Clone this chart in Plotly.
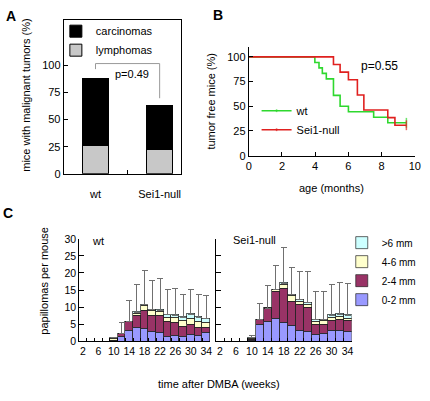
import plotly.graph_objects as go

W, H = 430, 401
FONT = "Liberation Sans, Arial, sans-serif"

# ---------------- Panel A data ----------------
groups = ["wt", "Sei1-null"]
group_pos = [0, 1]
lymphomas = [26.0, 22.0]
carcinomas = [61.5, 40.8]
p_text_A = "p=0.49"
bracket_top = 101.5
bracket_ends = [96.4, 69.6]

# ---------------- Panel B data ----------------
wt_months = [0, 3.98, 4.23, 4.43, 4.67, 5.1, 5.5, 6.0, 7.52, 8.37, 9.49]
wt_free = [100, 94.4, 88.9, 83.3, 77.8, 61.1, 50.0, 44.4, 38.9, 33.3, 33.3]
null_months = [0, 5.1, 5.5, 6.0, 6.54, 6.93, 8.37, 8.8, 9.49]
null_free = [100, 92.3, 84.6, 76.9, 61.5, 46.2, 38.5, 30.8, 30.8]
p_text_B = "p=0.55"

# ---------------- Panel C data ----------------
weeks = [str(w) for w in range(2, 35, 2)]
week_labels = [w if i % 2 == 0 else "" for i, w in enumerate(weeks)]
size_classes = ["0-2 mm", "2-4 mm", "4-6 mm", ">6 mm"]
wt_0_2 = [0, 0, 0, 0, 0.3, 1.4, 3.2, 3.9, 3.8, 2.7, 2.6, 1.2, 1.5, 1.4, 1.9, 1.7, 2.6]
wt_2_4 = [0, 0, 0, 0, 0.0, 0.9, 2.5, 3.6, 5.2, 4.8, 4.9, 4.4, 4.0, 2.8, 3.0, 2.3, 1.4]
wt_4_6 = [0, 0, 0, 0, 0.4, 0.0, 0.1, 0.6, 1.3, 1.3, 1.1, 1.3, 1.4, 1.7, 1.7, 1.7, 1.4]
wt_6 = [0, 0, 0, 0, 0.4, 0.0, 0.0, 0.4, 0.4, 0.5, 0.5, 0.9, 0.8, 1.2, 1.4, 1.4, 1.2]
wt_err = [0, 0, 0, 0, 0, 3.1, 6.2, 8.1, 10.1, 8.4, 9.2, 7.4, 7.9, 6.5, 7.1, 6.5, 6.8]
null_0_2 = [0, 0, 0, 0, 0.3, 4.7, 5.7, 6.5, 5.5, 4.5, 3.2, 2.7, 1.9, 2.1, 3.0, 3.2, 2.7]
null_2_4 = [0, 0, 0, 0, 0.1, 1.6, 3.9, 8.1, 9.8, 7.2, 7.6, 7.0, 3.0, 2.6, 3.1, 3.1, 3.2]
null_4_6 = [0, 0, 0, 0, 0.3, 0.0, 0.1, 0.5, 1.3, 1.5, 0.9, 0.9, 0.8, 1.2, 0.7, 0.9, 0.8]
null_6 = [0, 0, 0, 0, 0.3, 0.0, 0.0, 0.1, 0.4, 0.4, 0.6, 0.7, 0.55, 0.4, 0.9, 0.8, 1.0]
null_err = [0, 0, 0, 0, 0.7, 4.8, 6.5, 7.1, 10.4, 8.1, 8.1, 9.2, 8.35, 8.4, 8.8, 9.1, 9.2]

size_colors = ["#9999FF", "#993366", "#FFFFCC", "#CCFFFF"]


def px_x(p):
    return p / W


def px_y(p):
    return 1 - p / H


fig = go.Figure()

# Panel A bars
fig.add_trace(go.Bar(x=group_pos, y=lymphomas, name="lymphomas", width=0.41,
                     marker=dict(color="#C8C8C8", line=dict(color="black", width=1)),
                     xaxis="x", yaxis="y", legend="legend"))
fig.add_trace(go.Bar(x=group_pos, y=carcinomas, name="carcinomas", width=0.41,
                     marker=dict(color="black", line=dict(color="black", width=1)),
                     xaxis="x", yaxis="y", legend="legend"))

# Panel B curves
marker_sizes_wt = [0] * (len(wt_months) - 1) + [7]
marker_sizes_null = [0] * (len(null_months) - 1) + [7]
fig.add_trace(go.Scatter(x=wt_months, y=wt_free, name="wt", mode="lines+markers",
                         line=dict(color="#2ED82E", width=1.6, shape="hv"),
                         marker=dict(symbol="line-ns", size=marker_sizes_wt,
                                     line=dict(color="#2ED82E", width=1.5)),
                         xaxis="x2", yaxis="y2", legend="legend2"))
fig.add_trace(go.Scatter(x=null_months, y=null_free, name="Sei1-null", mode="lines+markers",
                         line=dict(color="#E0201F", width=1.6, shape="hv"),
                         marker=dict(symbol="line-ns", size=marker_sizes_null,
                                     line=dict(color="#E0201F", width=1.5)),
                         xaxis="x2", yaxis="y2", legend="legend2"))

# Panel C stacked bars
wt_series = [wt_0_2, wt_2_4, wt_4_6, wt_6]
null_series = [null_0_2, null_2_4, null_4_6, null_6]
for k, (name, col) in enumerate(zip(size_classes, size_colors)):
    top = k == len(size_classes) - 1
    fig.add_trace(go.Bar(
        x=weeks, y=wt_series[k], name=name, marker=dict(color=col, line=dict(color="#222", width=0.7)),
        xaxis="x3", yaxis="y3", legend="legend3", showlegend=True,
        error_y=dict(type="data", symmetric=False, array=wt_err, arrayminus=[0] * len(weeks),
                     color="#707070", thickness=1, width=3) if top else None))
    fig.add_trace(go.Bar(
        x=weeks, y=null_series[k], name=name, marker=dict(color=col, line=dict(color="#222", width=0.7)),
        xaxis="x4", yaxis="y4", legend="legend3", showlegend=False,
        error_y=dict(type="data", symmetric=False, array=null_err, arrayminus=[0] * len(weeks),
                     color="#707070", thickness=1, width=3) if top else None))

axis_common = dict(showline=True, linecolor="black", linewidth=1, showgrid=False, zeroline=False,
                   tickfont=dict(size=11, color="black", family=FONT), tickcolor="black")
small_tick = {**axis_common, "tickfont": dict(size=10.5, color="black", family=FONT)}

fig.update_layout(
    width=W, height=H, margin=dict(l=0, r=0, t=0, b=0),
    paper_bgcolor="white", plot_bgcolor="white",
    font=dict(family=FONT, color="black", size=11),
    barmode="stack", bargap=0.0,
    xaxis=dict(domain=[px_x(62), px_x(182)], range=[-0.496, 1.336], anchor="y", mirror=True,
               tickvals=group_pos, ticktext=groups, ticks="", ticklabelstandoff=10,
               minor=dict(tickvals=[0.5], ticks="inside", ticklen=4, tickcolor="black"),
               **axis_common),
    yaxis=dict(domain=[px_y(173), px_y(14)], range=[0, 142], anchor="x", mirror=True,
               tickvals=[0, 25, 50, 75, 100], ticks="inside", ticklen=4, **axis_common),
    xaxis2=dict(domain=[px_x(251), px_x(421)], range=[0, 10.02], anchor="y2",
                tickvals=[0, 2, 4, 6, 8, 10], ticks="inside", ticklen=4, **axis_common),
    yaxis2=dict(domain=[px_y(154.3), px_y(42.3)], range=[0, 110], anchor="x2",
                tickvals=[0, 25, 50, 75, 100], ticks="inside", ticklen=4, **axis_common),
    xaxis3=dict(domain=[px_x(77.8), px_x(211.5)], anchor="y3", type="category",
                categoryorder="array", categoryarray=weeks, tickangle=0,
                tickvals=weeks, ticktext=week_labels, ticks="inside", ticklen=3,
                tickson="boundaries", **small_tick),
    yaxis3=dict(domain=[px_y(345.7), px_y(240)], range=[0, 30], anchor="x3",
                tickvals=[0, 5, 10, 15, 20, 25, 30], ticks="inside", ticklen=5, **small_tick),
    xaxis4=dict(domain=[px_x(217.6), px_x(356)], anchor="y4", type="category",
                categoryorder="array", categoryarray=weeks, tickangle=0,
                tickvals=weeks, ticktext=week_labels, ticks="inside", ticklen=3,
                tickson="boundaries", **small_tick),
    yaxis4=dict(domain=[px_y(345.7), px_y(240)], range=[0, 30], anchor="x4",
                tickvals=[0, 5, 10, 15, 20, 25, 30], ticks="inside", ticklen=5, showticklabels=False,
                **axis_common),
    legend=dict(x=px_x(54), y=px_y(11), xanchor="left", yanchor="top", traceorder="reversed",
                bgcolor="rgba(0,0,0,0)", font=dict(size=11)),
    legend2=dict(x=px_x(259), y=px_y(93), xanchor="left", yanchor="top", traceorder="normal",
                 bgcolor="rgba(0,0,0,0)", font=dict(size=11)),
    legend3=dict(x=px_x(346), y=px_y(229), xanchor="left", yanchor="top", traceorder="reversed",
                 bgcolor="rgba(0,0,0,0)", font=dict(size=10)),
)

# p-value bracket in panel A
fig.add_shape(type="path", xref="x", yref="y",
              path=f"M {group_pos[0]},{bracket_ends[0]} L {group_pos[0]},{bracket_top} "
                   f"L {group_pos[1]},{bracket_top} L {group_pos[1]},{bracket_ends[1]}",
              line=dict(color="#999999", width=1))

ann = []


def add_text(text, x, y, size=11, bold=False, angle=0, xanchor="center"):
    ann.append(dict(text=f"<b>{text}</b>" if bold else text, x=px_x(x), y=px_y(y), xref="paper", yref="paper",
                    showarrow=False, font=dict(size=size, family=FONT, color="black"),
                    textangle=angle, xanchor=xanchor, yanchor="middle"))


add_text("A", 8, 10, size=14, bold=True)
add_text("B", 220, 9, size=14, bold=True)
add_text("C", 5, 213, size=14, bold=True)
add_text(p_text_A, 132, 70, size=11)
add_text(p_text_B, 385, 62, size=12)
add_text("mice with malignant tumors (%)", 24, 92, size=11, angle=-90)
add_text("tumor free mice (%)", 213, 98, size=11, angle=-90)
add_text("age (months)", 336, 188, size=11)
add_text("papillomas per mouse", 41, 283, size=11, angle=-90)
add_text("time after DMBA (weeks)", 221, 390, size=11)
add_text("wt", 97, 242, size=11)
add_text("Sei1-null", 257, 241, size=11)
fig.update_layout(annotations=ann)

fig.write_html("out.html", config={"displayModeBar": False},
               post_script="document.body.style.margin='0px';")
